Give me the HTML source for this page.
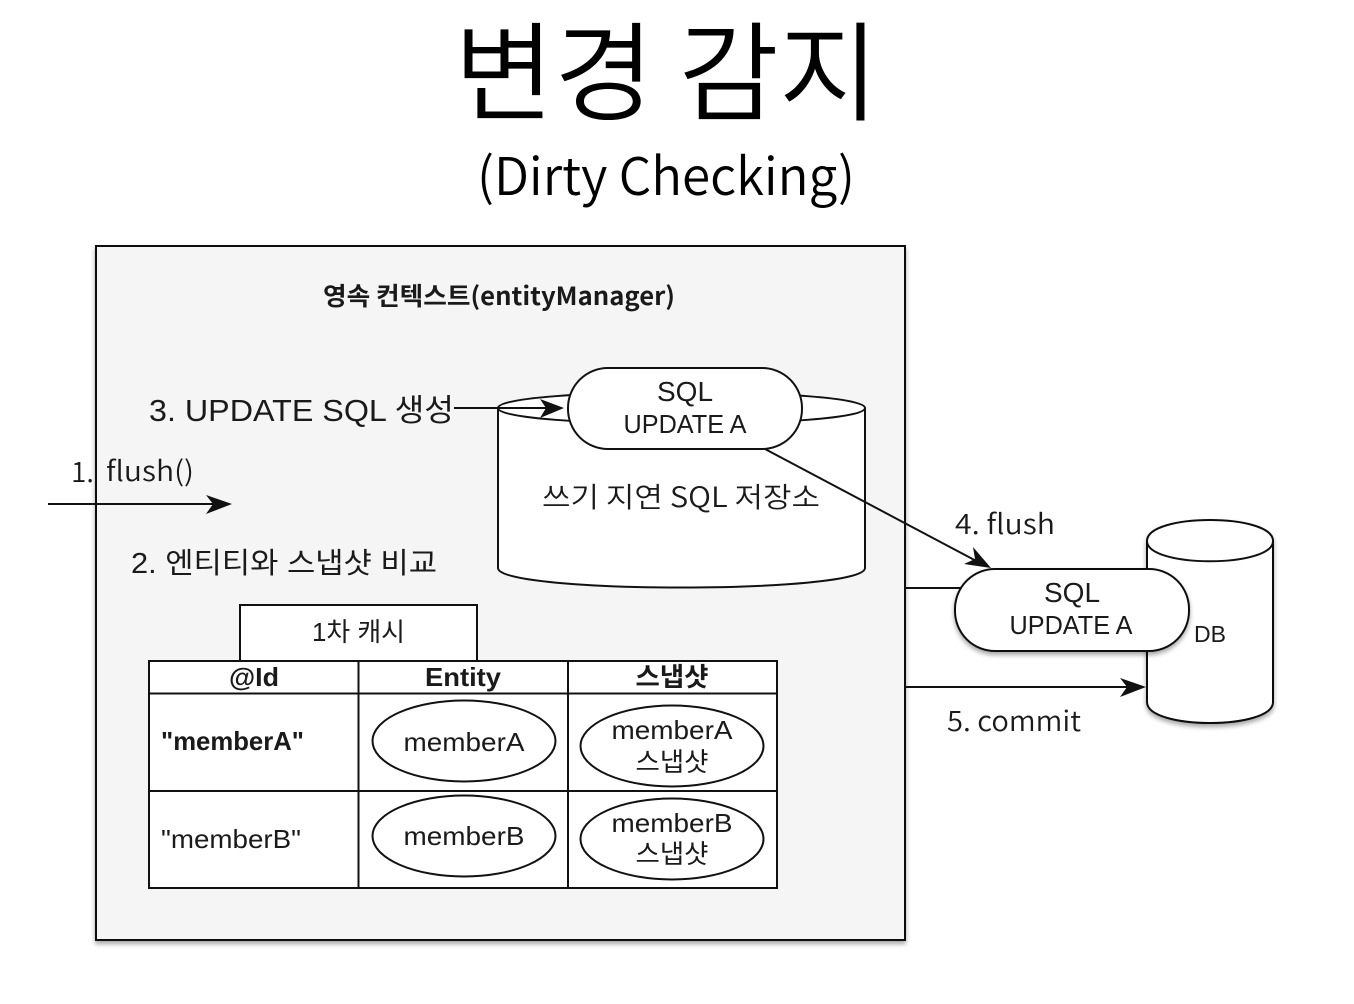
<!DOCTYPE html>
<html><head><meta charset="utf-8"><style>
html,body{margin:0;padding:0;background:#fff}
svg{display:block}
text{font-family:"Liberation Sans","Noto Sans CJK KR",sans-serif;fill:#1a1a1a}
.k{font-family:"Noto Sans CJK KR",sans-serif}
</style></head><body>
<svg width="1354" height="1004" viewBox="0 0 1354 1004" xmlns="http://www.w3.org/2000/svg">
<defs>
<filter id="s" x="-5%" y="-5%" width="110%" height="115%"><feDropShadow dx="0" dy="3" stdDeviation="2.5" flood-color="#000" flood-opacity="0.35"/></filter>
</defs>
<rect width="1354" height="1004" fill="#fff"/>
<text class="k" x="454" y="112" font-size="108" textLength="425" lengthAdjust="spacingAndGlyphs" style="fill:#000;font-weight:350">변경 감지</text>
<text class="k" x="477" y="195" font-size="52" textLength="378" lengthAdjust="spacingAndGlyphs" style="fill:#000;font-weight:350">(Dirty Checking)</text>

<rect x="96" y="246" width="809" height="694" fill="#f5f5f5" stroke="#111" stroke-width="2" filter="url(#s)"/>
<text class="k" x="323" y="305" font-size="25" font-weight="700" textLength="352" lengthAdjust="spacingAndGlyphs">영속 컨텍스트(entityManager)</text>

<!-- write-behind cylinder -->
<path d="M498 408 C498 387 865 387 865 408 V568 C865 594 498 594 498 568 Z" fill="#fff" stroke="#111" stroke-width="2"/>
<path d="M498 408 C498 429 865 429 865 408" fill="none" stroke="#111" stroke-width="2"/>
<text class="k" x="542" y="507" font-size="28" textLength="278" lengthAdjust="spacingAndGlyphs" style="font-weight:350">쓰기 지연 SQL 저장소</text>

<text x="149" y="421" font-size="31" textLength="305" lengthAdjust="spacingAndGlyphs">3. UPDATE SQL 생성</text>
<line x1="454" y1="408" x2="556" y2="408" stroke="#111" stroke-width="2"/>
<path d="M540 399 L564 408 L540 418 L546 408 Z" fill="#111"/>

<!-- SQL pill top -->
<rect x="568" y="368" width="234" height="81" rx="40" ry="40" fill="#fff" stroke="#111" stroke-width="2"/>
<text x="685" y="401" font-size="28" text-anchor="middle">SQL</text>
<text x="685" y="433" font-size="25.500" text-anchor="middle" textLength="123" lengthAdjust="spacingAndGlyphs">UPDATE A</text>

<!-- 1. flush -->
<text x="71" y="482" font-size="28" class="k" style="font-weight:350">1.</text>
<text x="106" y="481" font-size="28" class="k" textLength="88" lengthAdjust="spacingAndGlyphs" style="font-weight:350">flush()</text>
<line x1="48" y1="504" x2="225" y2="504" stroke="#111" stroke-width="2"/>
<path d="M206 495 L232 504 L206 514 L213 504 Z" fill="#111"/>
<text x="131" y="573" font-size="29" textLength="306" lengthAdjust="spacingAndGlyphs">2. 엔티티와 스냅샷 비교</text>

<!-- cache -->
<rect x="240" y="605" width="237" height="56" fill="#fff" stroke="#111" stroke-width="2"/>
<text x="312" y="641" font-size="26" textLength="93" lengthAdjust="spacingAndGlyphs">1차 캐시</text>
<rect x="149" y="661" width="628" height="227" fill="#fff" stroke="#111" stroke-width="2"/>
<path d="M149 693.500 H777 M149 791 H777 M358.500 661 V888 M568 661 V888" stroke="#111" stroke-width="2" fill="none"/>
<text x="254" y="686" font-size="26" font-weight="700" text-anchor="middle" textLength="50" lengthAdjust="spacingAndGlyphs">@Id</text>
<text x="463" y="686" font-size="26" font-weight="700" text-anchor="middle" textLength="76" lengthAdjust="spacingAndGlyphs">Entity</text>
<text x="672" y="686" font-size="26" font-weight="700" text-anchor="middle" textLength="73" lengthAdjust="spacingAndGlyphs">스냅샷</text>
<text x="161" y="750" font-size="26" font-weight="700" textLength="143" lengthAdjust="spacingAndGlyphs">"memberA"</text>
<text x="161" y="848" font-size="26" textLength="140" lengthAdjust="spacingAndGlyphs">"memberB"</text>
<ellipse cx="464" cy="741" rx="91.500" ry="40.500" fill="#fff" stroke="#111" stroke-width="2"/>
<ellipse cx="672" cy="746" rx="91.500" ry="40.500" fill="#fff" stroke="#111" stroke-width="2"/>
<ellipse cx="464" cy="836" rx="91.500" ry="40.500" fill="#fff" stroke="#111" stroke-width="2"/>
<ellipse cx="672" cy="839" rx="91.500" ry="40.500" fill="#fff" stroke="#111" stroke-width="2"/>
<text x="464" y="751" font-size="26" text-anchor="middle" textLength="121" lengthAdjust="spacingAndGlyphs">memberA</text>
<text x="464" y="845" font-size="26" text-anchor="middle" textLength="121" lengthAdjust="spacingAndGlyphs">memberB</text>
<text x="672" y="739" font-size="26" text-anchor="middle" textLength="121" lengthAdjust="spacingAndGlyphs">memberA</text>
<text x="672" y="771" font-size="26" text-anchor="middle" textLength="73" lengthAdjust="spacingAndGlyphs">스냅샷</text>
<text x="672" y="832" font-size="26" text-anchor="middle" textLength="121" lengthAdjust="spacingAndGlyphs">memberB</text>
<text x="672" y="863" font-size="26" text-anchor="middle" textLength="73" lengthAdjust="spacingAndGlyphs">스냅샷</text>

<!-- DB -->
<path d="M1147 541 C1147 513 1273 513 1273 541 V702 C1273 730 1147 730 1147 702 Z" fill="#fff" stroke="#111" stroke-width="2" filter="url(#s)"/>
<path d="M1147 541 C1147 568 1273 568 1273 541" fill="none" stroke="#111" stroke-width="2"/>
<text x="1194" y="642" font-size="23" textLength="32" lengthAdjust="spacingAndGlyphs">DB</text>

<line x1="905" y1="588" x2="965" y2="588" stroke="#111" stroke-width="2"/>
<rect x="955" y="569" width="234" height="82" rx="40" ry="40" fill="#fff" stroke="#111" stroke-width="2" filter="url(#s)"/>
<text x="1072" y="602" font-size="28" text-anchor="middle">SQL</text>
<text x="1071" y="634" font-size="25.500" text-anchor="middle" textLength="123" lengthAdjust="spacingAndGlyphs">UPDATE A</text>

<!-- arrows -->
<line x1="765" y1="449" x2="982" y2="564" stroke="#111" stroke-width="2"/>
<path d="M991 568 L964 564 L975 559 L973 547 Z" fill="#111"/>
<text class="k" x="955" y="534" font-size="28" textLength="100" lengthAdjust="spacingAndGlyphs" style="font-weight:350">4. flush</text>
<line x1="905" y1="687" x2="1138" y2="687" stroke="#111" stroke-width="2"/>
<path d="M1120 678 L1146 687 L1120 697 L1127 687 Z" fill="#111"/>
<text class="k" x="947" y="731" font-size="28" textLength="134" lengthAdjust="spacingAndGlyphs" style="font-weight:350">5. commit</text>
</svg>
</body></html>
